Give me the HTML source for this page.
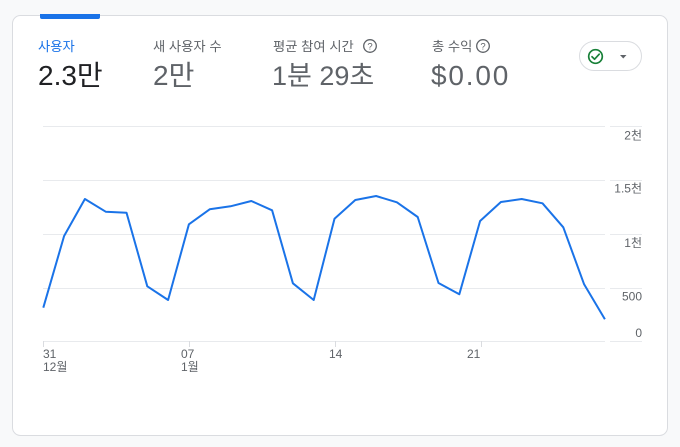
<!DOCTYPE html>
<html><head><meta charset="utf-8">
<style>
html,body{margin:0;padding:0;background:#f8f9fa;}
svg{display:block;}
text{font-family:"Liberation Sans","Noto Sans CJK KR",sans-serif;}
</style></head>
<body>
<svg width="680" height="447" viewBox="0 0 680 447" xmlns="http://www.w3.org/2000/svg">
<rect x="0" y="0" width="680" height="447" fill="#f8f9fa"/>
<rect x="12.5" y="15.5" width="655" height="420" rx="8" ry="8" fill="#ffffff" stroke="#dadce0" stroke-width="1"/>
<path d="M40,14 H100 V17 a2,2 0 0 1 -2,2 H42 a2,2 0 0 1 -2,-2 Z" fill="#1a73e8"/>

<!-- header labels -->
<text x="38" y="51" font-size="13.3" fill="#1a73e8">사용자</text>
<text x="38" y="85" font-size="28" fill="#202124">2.3만</text>

<text x="153" y="51" font-size="13.3" fill="#5f6368">새 사용자 수</text>
<text x="153" y="85" font-size="28" fill="#5f6368">2만</text>

<text x="273" y="51" font-size="13.3" fill="#5f6368">평균 참여 시간</text>
<circle cx="370" cy="46" r="6.3" fill="none" stroke="#5f6368" stroke-width="1.3"/>
<text x="370" y="49.5" font-size="9.5" fill="#5f6368" text-anchor="middle">?</text>
<text x="272" y="85" font-size="27" fill="#5f6368">1분 29초</text>

<text x="432" y="51" font-size="13.3" fill="#5f6368">총 수익</text>
<circle cx="483" cy="46" r="6.3" fill="none" stroke="#5f6368" stroke-width="1.3"/>
<text x="483" y="49.5" font-size="9.5" fill="#5f6368" text-anchor="middle">?</text>
<text x="431" y="85" font-size="28" fill="#5f6368" letter-spacing="1.8">$0.00</text>

<!-- check pill -->
<rect x="579.5" y="41.5" width="62" height="29" rx="14.5" ry="14.5" fill="#ffffff" stroke="#dadce0" stroke-width="1"/>
<circle cx="595.5" cy="56.5" r="6.8" fill="none" stroke="#188038" stroke-width="1.7"/>
<path d="M592,56.7 L594.6,59.2 L599.2,54.2" fill="none" stroke="#188038" stroke-width="1.7" stroke-linecap="round" stroke-linejoin="round"/>
<path d="M620,55 L626.5,55 L623.25,58.5 Z" fill="#5f6368"/>

<!-- gridlines -->
<g stroke="#e8eaed" stroke-width="1">
<line x1="43" y1="126.5" x2="605" y2="126.5"/><line x1="610" y1="126.5" x2="642" y2="126.5"/>
<line x1="43" y1="180.5" x2="605" y2="180.5"/><line x1="610" y1="180.5" x2="642" y2="180.5"/>
<line x1="43" y1="234.5" x2="605" y2="234.5"/><line x1="610" y1="234.5" x2="642" y2="234.5"/>
<line x1="43" y1="288.5" x2="605" y2="288.5"/><line x1="610" y1="288.5" x2="642" y2="288.5"/>
<line x1="43" y1="341.5" x2="605" y2="341.5"/><line x1="610" y1="341.5" x2="642" y2="341.5"/>
</g>
<!-- ticks -->
<g stroke="#dadce0" stroke-width="1">
<line x1="43.5" y1="341" x2="43.5" y2="347"/>
<line x1="189.5" y1="341" x2="189.5" y2="347"/>
<line x1="335.5" y1="341" x2="335.5" y2="347"/>
<line x1="481.5" y1="341" x2="481.5" y2="347"/>
</g>

<!-- y labels -->
<g font-size="12" fill="#5f6368" text-anchor="end">
<text x="642" y="139.5">2천</text>
<text x="642" y="192.5">1.5천</text>
<text x="642" y="247">1천</text>
<text x="642" y="300.5">500</text>
<text x="642" y="337">0</text>
</g>

<!-- x labels -->
<g font-size="12" fill="#5f6368">
<text x="43" y="358">31</text>
<text x="43" y="371">12월</text>
<text x="181" y="358">07</text>
<text x="181" y="371">1월</text>
<text x="329" y="358">14</text>
<text x="467" y="358">21</text>
</g>

<!-- series -->
<polyline fill="none" stroke="#1a73e8" stroke-width="2" stroke-linejoin="round" stroke-linecap="butt"
points="43.3,307.7 64.1,236 84.9,199 105.7,211.7 126.5,212.7 147.3,286.3 168.1,300 188.9,224.3 209.7,209.3 230.5,206.3 251.3,201 272.1,210.3 292.9,283.3 313.7,300 334.5,218.7 355.3,200 376.1,196 396.9,202.3 417.7,217 438.5,283 459.3,294.3 480.1,221 500.9,202 521.7,199 542.5,203.3 563.3,227.3 584.1,284.3 604.9,319.3"/>
</svg>
</body></html>
